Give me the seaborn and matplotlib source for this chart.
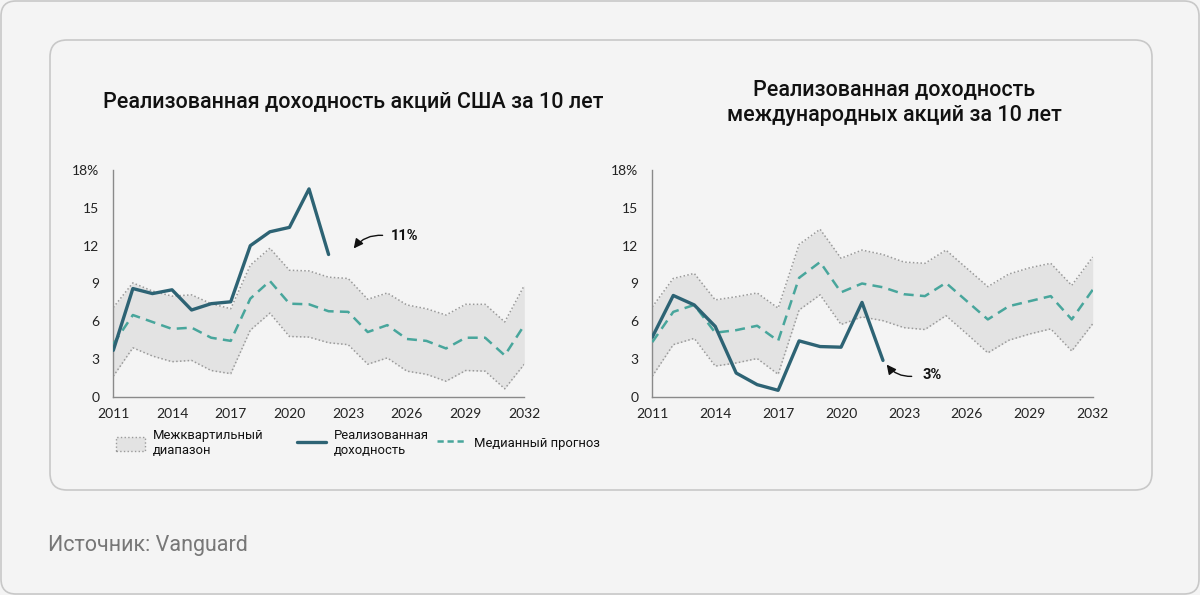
import numpy as np
import pandas as pd
import seaborn as sns
import matplotlib.pyplot as plt
from matplotlib.patches import FancyBboxPatch, Patch
from matplotlib.lines import Line2D

# Data
years = list(range(2011, 2033))
realized_years = list(range(2011, 2023))

us_realized = [3.7, 8.6, 8.2, 8.5, 6.9, 7.4, 7.55, 12.0, 13.1, 13.45, 16.5, 11.3]
us_median = [4.2, 6.5, 5.95, 5.4, 5.5, 4.7, 4.45, 7.8, 9.2, 7.4, 7.35, 6.8, 6.75,
             5.15, 5.7, 4.6, 4.45, 3.85, 4.7, 4.7, 3.3, 5.7]
us_upper = [7.1, 9.05, 8.4, 8.0, 8.1, 7.4, 7.0, 10.45, 11.8, 10.05, 10.0, 9.5, 9.4,
            7.75, 8.25, 7.3, 7.0, 6.5, 7.35, 7.35, 5.95, 8.85]
us_lower = [1.65, 3.9, 3.25, 2.8, 2.9, 2.1, 1.85, 5.3, 6.65, 4.8, 4.75, 4.3, 4.15,
            2.6, 3.1, 2.05, 1.8, 1.25, 2.1, 2.05, 0.65, 2.6]

intl_realized = [4.75, 8.05, 7.3, 5.6, 1.9, 0.98, 0.53, 4.45, 4.0, 3.95, 7.5, 2.9]
intl_median = [4.35, 6.75, 7.3, 5.1, 5.3, 5.65, 4.45, 9.45, 10.7, 8.3, 9.0, 8.7, 8.15,
               8.0, 9.05, 7.6, 6.15, 7.2, 7.6, 8.0, 6.15, 8.5]
intl_upper = [7.15, 9.4, 9.8, 7.7, 7.95, 8.25, 7.05, 12.1, 13.3, 11.0, 11.65, 11.3, 10.7,
              10.6, 11.65, 10.2, 8.75, 9.75, 10.25, 10.6, 8.85, 11.1]
intl_lower = [1.65, 4.15, 4.65, 2.45, 2.7, 3.05, 1.8, 6.9, 8.1, 5.75, 6.35, 6.05, 5.5,
              5.35, 6.45, 5.0, 3.5, 4.5, 5.0, 5.4, 3.65, 5.8]

titles = ["Реализованная доходность акций США за 10 лет",
          "Реализованная доходность\nмеждународных акций за 10 лет"]
labels = ["Межквартильный\nдиапазон", "Реализованная\nдоходность", "Медианный прогноз"]
callouts = ["11%", "3%"]
yticks = [0, 3, 6, 9, 12, 15, 18]
ytick_labels = ["0", "3", "6", "9", "12", "15", "18%"]
xticks = list(range(2011, 2033, 3))

BG = "#f4f4f4"
DARK = "#2d6374"
MED = "#48a69c"
BAND = "#e3e3e3"
EDGE = "#9a9a9a"

sns.set_theme(style="white")
plt.rcParams['font.family'] = ['Roboto', 'DejaVu Sans']

W, H = 1200, 595
fig = plt.figure(figsize=(12, 5.95), dpi=100, facecolor=BG)

# outer and inner rounded frames
fig.patches.append(FancyBboxPatch((0.01, 0.01), 11.98, 5.93,
                                  boxstyle="round,pad=0,rounding_size=0.15",
                                  transform=fig.dpi_scale_trans, facecolor=BG,
                                  edgecolor="#c8c8c8", lw=1.2, zorder=-2))
fig.patches.append(FancyBboxPatch((0.5, 1.05), 11.02, 4.5,
                                  boxstyle="round,pad=0,rounding_size=0.17",
                                  transform=fig.dpi_scale_trans, facecolor=BG,
                                  edgecolor="#c8c8c8", lw=1.2, zorder=-1))


def px_axes(x0, x1, y0, y1):
    return fig.add_axes([x0 / W, 1 - y1 / H, (x1 - x0) / W, (y1 - y0) / H])


def draw_panel(ax, realized, median, upper, lower):
    df = pd.DataFrame({"year": years, "median": median, "upper": upper, "lower": lower})
    dr = pd.DataFrame({"year": realized_years, "realized": realized})
    ax.fill_between(df["year"], df["lower"], df["upper"], color=BAND, lw=0, zorder=1)
    sns.lineplot(data=df, x="year", y="upper", ax=ax, color=EDGE, lw=1.1,
                 linestyle=(0, (1, 1.5)), zorder=2)
    sns.lineplot(data=df, x="year", y="lower", ax=ax, color=EDGE, lw=1.1,
                 linestyle=(0, (1, 1.5)), zorder=2)
    sns.lineplot(data=df, x="year", y="median", ax=ax, color=MED, lw=1.8,
                 linestyle=(0, (4, 2.5)), zorder=3)
    sns.lineplot(data=dr, x="year", y="realized", ax=ax, color=DARK, lw=2.4, zorder=4)
    ax.set_facecolor(BG)
    ax.patch.set_alpha(0)
    ax.set_xlim(2011, 2032)
    ax.set_ylim(0, 18)
    ax.set_xticks(xticks)
    ax.set_yticks(yticks)
    ax.set_yticklabels(ytick_labels)
    ax.set_xlabel("")
    ax.set_ylabel("")
    sns.despine(ax=ax)
    for s in ["left", "bottom"]:
        ax.spines[s].set_color("#8a8a8a")
        ax.spines[s].set_linewidth(1)
    ax.tick_params(axis="both", length=5, width=1, color="#8a8a8a",
                   labelsize=10, labelcolor="#222222", pad=3)
    ax.tick_params(axis="y", pad=5)
    for t in ax.get_yticklabels() + ax.get_xticklabels():
        t.set_fontfamily(['Lato', 'DejaVu Sans'])


ax1 = px_axes(113.3, 524.3, 170, 397)
ax2 = px_axes(652.3, 1092.7, 170, 397)
draw_panel(ax1, us_realized, us_median, us_upper, us_lower)
draw_panel(ax2, intl_realized, intl_median, intl_upper, intl_lower)

# callouts
ax1.annotate("", xy=(2023.2, 11.6), xytext=(2024.9, 12.8),
             arrowprops=dict(arrowstyle="-|>", color="#111", lw=1,
                             connectionstyle="arc3,rad=0.3", mutation_scale=14))
ax1.text(2025.2, 12.75, callouts[0], fontsize=10.5, fontweight="bold",
         va="center", ha="left", color="#111")
ax2.annotate("", xy=(2022.1, 2.75), xytext=(2023.5, 1.65),
             arrowprops=dict(arrowstyle="-|>", color="#111", lw=1,
                             connectionstyle="arc3,rad=-0.3", mutation_scale=14))
ax2.text(2023.9, 1.75, callouts[1], fontsize=10.5, fontweight="bold",
         va="center", ha="left", color="#111")

# titles
fig.text(103 / W, 1 - 102 / H, titles[0], fontsize=15.5, fontweight="medium",
         ha="left", va="center", color="#111")
fig.text(894 / W, 1 - 103 / H, titles[1], fontsize=15.5, fontweight="medium",
         ha="center", va="center", color="#111", linespacing=1.3)

# legend: one entry per position
handles = [Patch(facecolor=BAND, edgecolor=EDGE, linestyle=":", lw=1),
           Line2D([], [], color=DARK, lw=2.4),
           Line2D([], [], color=MED, lw=1.8, linestyle=(0, (2.5, 1.5)))]
leg_x = [116, 297, 437]
for h, lab, lx in zip(handles, labels, leg_x):
    lg = fig.legend([h], [lab], loc="center left", bbox_to_anchor=(lx / W, 1 - 443 / H),
                    frameon=False, fontsize=9.4, handlelength=2.2, handleheight=1.3,
                    handletextpad=0.6, borderpad=0, borderaxespad=0, labelcolor="#111")

fig.text(48 / W, 1 - 545 / H, "Источник: Vanguard", fontsize=15.5, color="#777777",
         ha="left", va="center")

fig.savefig("out.png", dpi=100, facecolor=BG)
